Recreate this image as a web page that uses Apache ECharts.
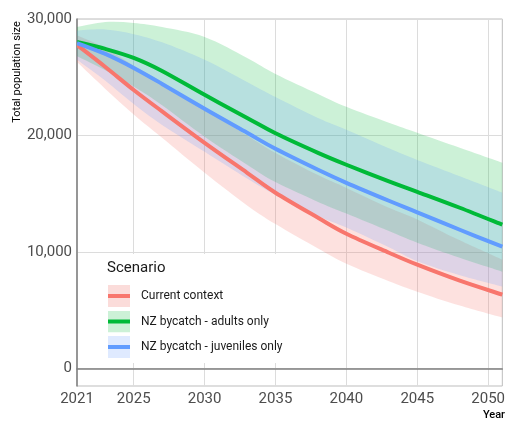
<!DOCTYPE html>
<html>
<head>
<meta charset="utf-8">
<script src="https://cdn.jsdelivr.net/npm/echarts@6/dist/echarts.min.js"></script>
<style>
  html, body { margin: 0; padding: 0; background: #fff; }
  #chart { width: 508px; height: 424px; }
</style>
</head>
<body>
<div id="chart"></div>
<script>
// values
const years = [2021, 2023, 2025, 2027, 2030, 2033, 2035, 2038, 2040, 2043, 2045, 2048, 2051];

const currentMean = [27770, 25880, 23910, 22070, 19370, 16800, 15090, 12940, 11570, 9940, 8910, 7540, 6340];
const currentLow  = [26300, 24000, 21800, 19800, 16800, 14000, 12400, 10300, 9000, 7500, 6600, 5400, 4370];
const currentHigh = [28600, 27500, 26000, 24600, 22300, 20000, 18500, 16600, 15500, 13800, 12800, 11000, 9340];

const adultsMean = [28030, 27430, 26660, 25540, 23490, 21510, 20190, 18510, 17490, 16070, 15170, 13800, 12340];
const adultsLow  = [26800, 25600, 24200, 22600, 19900, 17500, 16000, 14300, 13300, 11800, 10800, 9500, 8310];
const adultsHigh = [29310, 29740, 29660, 29310, 28460, 26660, 25290, 23570, 22460, 21090, 20230, 18940, 17660];

const juvMean = [27940, 27000, 25800, 24430, 22290, 20230, 18860, 17060, 15940, 14400, 13410, 11910, 10460];
const juvLow  = [26500, 24700, 22700, 20900, 18600, 16300, 14900, 13100, 12100, 10400, 9200, 8000, 7030];
const juvHigh = [29000, 29100, 28700, 28000, 26500, 24600, 23300, 21500, 20500, 18900, 17900, 16500, 15090];

const scenarios = ['Current context', 'NZ bycatch - adults only', 'NZ bycatch - juveniles only'];
const lineColors = ['#F8766D', '#00BA38', '#619CFF'];
const bandColors = ['rgba(248,118,109,0.22)', 'rgba(0,186,56,0.2)', 'rgba(97,156,255,0.2)'];
const keyFill = ['#fbdcda', '#ccf1d7', '#dfeaff'];

// catmull-rom through the points, as svg path commands (no leading M)
function curve(pts) {
    let d = '';
    for (let i = 0; i < pts.length - 1; i++) {
        let p0 = pts[Math.max(i - 1, 0)], p1 = pts[i], p2 = pts[i + 1], p3 = pts[Math.min(i + 2, pts.length - 1)];
        let c1 = [p1[0] + (p2[0] - p0[0]) / 6, p1[1] + (p2[1] - p0[1]) / 6];
        let c2 = [p2[0] - (p3[0] - p1[0]) / 6, p2[1] - (p3[1] - p1[1]) / 6];
        d += ' C' + c1.join(',') + ' ' + c2.join(',') + ' ' + p2.join(',');
    }
    return d;
}

function band(low, high, color) {
    return {
        type: 'custom',
        clip: true,
        silent: true,
        z: 1,
        data: [[years[0], low[0]]],
        renderItem: function (params, api) {
            let top = years.map((y, i) => api.coord([y, high[i]]));
            let bottom = years.map((y, i) => api.coord([y, low[i]])).reverse();
            let d = 'M' + top[0].join(',') + curve(top) + ' L' + bottom[0].join(',') + curve(bottom) + ' Z';
            return { type: 'path', shape: { pathData: d }, style: { fill: color } };
        }
    };
}

function meanLine(name, vals, color) {
    return {
        type: 'custom',
        name: name,
        clip: true,
        silent: true,
        z: 3,
        itemStyle: { color: color },
        data: [[years[0], vals[0]]],
        renderItem: function (params, api) {
            let pts = years.map((y, i) => api.coord([y, vals[i]]));
            return {
                type: 'path',
                shape: { pathData: 'M' + pts[0].join(',') + curve(pts) },
                style: { fill: null, stroke: color, lineWidth: 4, lineJoin: 'round' }
            };
        }
    };
}

function keyIcon(i) {
    let svg = "<svg xmlns='http://www.w3.org/2000/svg' width='22' height='22'>" +
        "<rect width='22' height='22' fill='" + keyFill[i] + "'/>" +
        "<rect y='9' width='22' height='4' fill='" + lineColors[i] + "'/></svg>";
    return 'image://data:image/svg+xml;utf8,' + svg.replace(/#/g, '%23');
}

let chart = echarts.init(document.getElementById('chart'));

let series = [
    band(currentLow, currentHigh, bandColors[0]),
    band(adultsLow, adultsHigh, bandColors[1]),
    band(juvLow, juvHigh, bandColors[2]),
    meanLine(scenarios[0], currentMean, lineColors[0]),
    meanLine(scenarios[1], adultsMean, lineColors[1]),
    meanLine(scenarios[2], juvMean, lineColors[2])
];

// 20 split lines per cycle on y (index 3 = 0), 5 per cycle on x (index 4 = 2025)
let yLineColors = [];
for (let i = 0; i < 20; i++) yLineColors.push(i === 3 ? '#dcdcdc' : 'rgba(0,0,0,0)');

chart.setOption({
    animation: false,
    textStyle: { fontFamily: 'Roboto' },
    grid: {
        left: 77, right: 3, top: 19, bottom: 38,
        show: true, borderColor: '#bdbdbd', borderWidth: 1
    },
    title: {
        text: 'Scenario',
        left: 107, top: 261,
        padding: 0,
        textStyle: { fontSize: 15, fontWeight: 'normal', color: '#1a1a1a', fontFamily: 'Roboto' },
        z: 6
    },
    legend: {
        orient: 'vertical',
        left: 98, top: 254,
        padding: [31, 10, 5, 10],
        backgroundColor: '#fff',
        itemWidth: 22, itemHeight: 22, itemGap: 3.5,
        data: scenarios.map((n, i) => ({ name: n, icon: keyIcon(i) })),
        textStyle: { fontSize: 12, color: '#1a1a1a', fontFamily: 'Roboto', padding: [0, 0, 0, 6] },
        selectedMode: false
    },
    xAxis: {
        type: 'value',
        min: 2021, max: 2051, interval: 1,
        axisLine: { show: true, lineStyle: { color: '#7f7f7f', width: 1.5 } },
        axisTick: { show: false },
        axisLabel: {
            fontSize: 15, color: '#4d4d4d', margin: 6,
            formatter: v => (v === 2021 || v % 5 === 0) ? String(v) : ''
        },
        splitLine: {
            show: true,
            lineStyle: { color: ['rgba(0,0,0,0)', 'rgba(0,0,0,0)', 'rgba(0,0,0,0)', 'rgba(0,0,0,0)', '#dcdcdc'] }
        }
    },
    yAxis: {
        type: 'value',
        min: -1500, max: 30000, interval: 500,
        axisLine: { show: true, lineStyle: { color: '#7f7f7f', width: 1.5 } },
        axisTick: { show: false },
        axisLabel: {
            fontSize: 15, color: '#4d4d4d', margin: 5,
            formatter: v => (v >= 0 && v % 10000 === 0) ? v.toLocaleString('en-US') : ''
        },
        splitLine: { show: true, lineStyle: { color: yLineColors } }
    },
    graphic: [
        {
            type: 'text', x: 17, y: 72, rotation: Math.PI / 2,
            style: { text: 'Total population size', fontSize: 11, fill: '#000', fontFamily: 'Roboto', align: 'center', verticalAlign: 'middle' }
        },
        {
            type: 'text', x: 505, y: 415,
            style: { text: 'Year', fontSize: 11, fontWeight: 500, fill: '#000', fontFamily: 'Roboto', align: 'right', verticalAlign: 'middle' }
        }
    ],
    series: series
});
</script>
</body>
</html>
